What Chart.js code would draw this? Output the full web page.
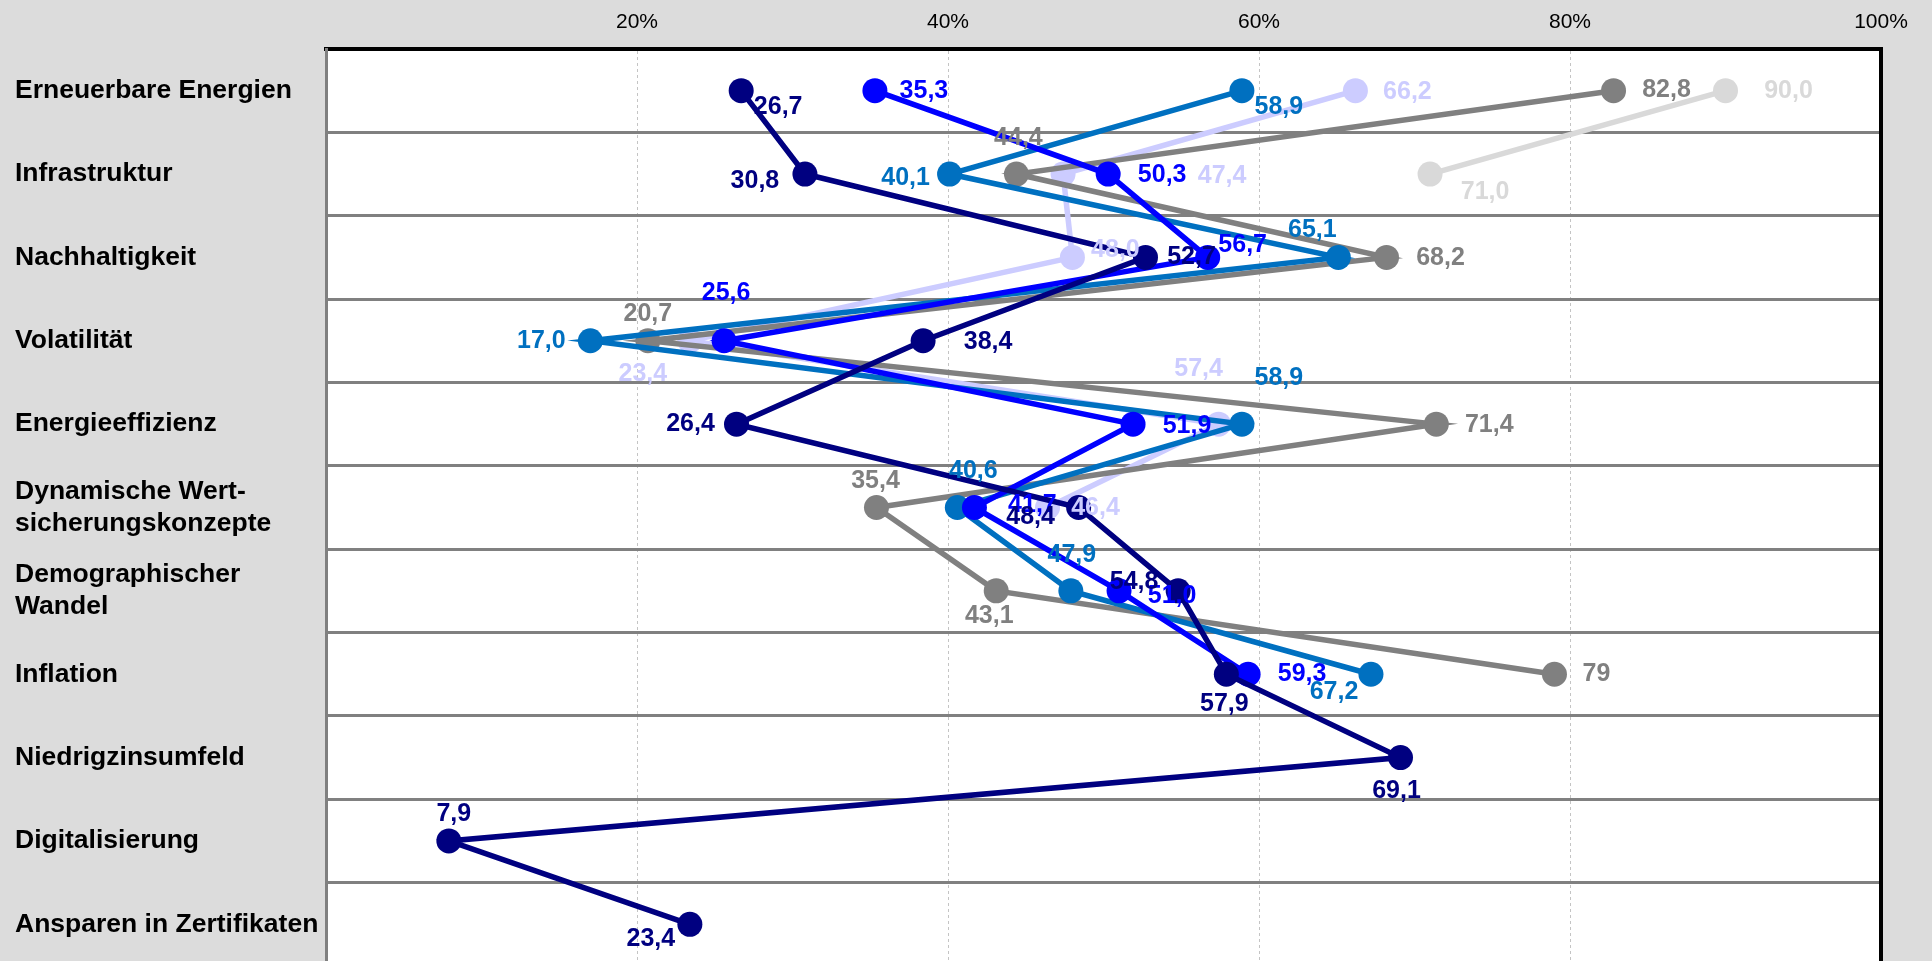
<!DOCTYPE html>
<html lang="de">
<head>
    <meta charset="utf-8">
    <title>Themen im Vergleich</title>
    <script src="https://cdn.jsdelivr.net/npm/chart.js"></script>
    <style>
        body {
            margin: 0;
            background: #dcdcdc;
            overflow: hidden;
        }
        /* die Grafik läuft unten etwas über den Rand hinaus */
        .frame {
            width: 1932px;
            height: 961px;
            overflow: hidden;
        }
        .chart-container {
            width: 1932px;
            height: 966px;
        }
    </style>
</head>
<body>

    <div class="frame">
        <div class="chart-container">
            <canvas id="themenChart"></canvas>
        </div>
    </div>

    <script>
        // Kategorien (von oben nach unten)
        const kategorien = [
            'Erneuerbare Energien',
            'Infrastruktur',
            'Nachhaltigkeit',
            'Volatilität',
            'Energieeffizienz',
            ['Dynamische Wert-', 'sicherungskonzepte'],
            ['Demographischer', 'Wandel'],
            'Inflation',
            'Niedrigzinsumfeld',
            'Digitalisierung',
            'Ansparen in Zertifikaten'
        ];

        // Werte in % je Serie
        const werteNavy = [26.7, 30.8, 52.7, 38.4, 26.4, 48.4, 54.8, 57.9, 69.1, 7.9, 23.4];
        const werteBlau = [35.3, 50.3, 56.7, 25.6, 51.9, 41.7, 51.0, 59.3];
        const werteMittelblau = [58.9, 40.1, 65.1, 17.0, 58.9, 40.6, 47.9, 67.2];
        const werteGrau = [82.8, 44.4, 68.2, 20.7, 71.4, 35.4, 43.1, '79'];
        const werteLavendel = [66.2, 47.4, 48.0, 23.4, 57.4, 46.4];
        const werteHellgrau = [90.0, 71.0];

        // Achsenbeschriftung oben
        const achsenTicks = [20, 40, 60, 80, 100];

        // Versatz der Wertebeschriftungen (Pixel, relativ zum Punkt)
        const versatzNavy = [[37, 16], [-50, 7], [46, 0], [65, 1], [-46, 0], [-48, 10], [-44, -9], [-2, 30], [-4, 34], [5, -27], [-39, 15]];
        const versatzBlau = [[49, 0], [54, 1], [35, -12], [2, -48], [54, 2], [58, -2], [53, 5], [54, 0]];
        const versatzMittelblau = [[37, 16], [-44, 4], [-26, -27], [-49, 0], [37, -46], [16, -36], [1, -36], [-37, 18]];
        const versatzGrau = [[53, -1], [2, -36], [54, 1], [0, -27], [53, 1], [-1, -26], [-7, 25], [42, 0]];
        const versatzLavendel = [[52, 1], [159, 2], [43, -7], [-47, 33], [-20, -55], [48, 1]];
        const versatzHellgrau = [[63, 0], [55, 18]];

        Chart.defaults.font.family = "'Liberation Sans', Arial, sans-serif";
        Chart.defaults.color = '#000000';

        function serie(werte, farbe, versatz) {
            return {
                data: werte,
                borderColor: farbe,
                backgroundColor: farbe,
                pointBackgroundColor: farbe,
                pointBorderWidth: 0,
                pointRadius: 12.5,
                pointHoverRadius: 12.5,
                borderWidth: 5.5,
                tension: 0,
                versatz: versatz
            };
        }

        // Hintergrund grau, Zeichenfläche weiß
        const hintergrund = {
            id: 'hintergrund',
            beforeDraw(chart) {
                const { ctx, chartArea: a, width, height } = chart;
                ctx.save();
                ctx.fillStyle = '#dcdcdc';
                ctx.fillRect(0, 0, width, height);
                ctx.fillStyle = '#ffffff';
                ctx.fillRect(a.left, a.top, a.right - a.left, a.bottom - a.top);
                ctx.restore();
            }
        };

        // Wertebeschriftungen
        const wertelabels = {
            id: 'wertelabels',
            afterDatasetsDraw(chart) {
                const ctx = chart.ctx;
                ctx.save();
                ctx.font = "bold 25px 'Liberation Sans', Arial, sans-serif";
                ctx.textAlign = 'center';
                ctx.textBaseline = 'middle';
                for (let d = chart.data.datasets.length - 1; d >= 0; d--) {
                    const ds = chart.data.datasets[d];
                    const meta = chart.getDatasetMeta(d);
                    ctx.fillStyle = ds.borderColor;
                    meta.data.forEach((pt, i) => {
                        const roh = ds.data[i];
                        const text = typeof roh === 'string' ? roh : roh.toFixed(1).replace('.', ',');
                        const [dx, dy] = ds.versatz[i];
                        ctx.fillText(text, pt.x + dx, pt.y + dy);
                    });
                }
                ctx.restore();
            }
        };

        // rechter Rahmen schwarz
        const rahmen = {
            id: 'rahmen',
            afterDraw(chart) {
                const { ctx, chartArea: a } = chart;
                ctx.save();
                ctx.strokeStyle = '#000000';
                ctx.lineWidth = 4;
                ctx.beginPath();
                ctx.moveTo(a.right, a.top - 2);
                ctx.lineTo(a.right, a.bottom);
                ctx.stroke();
                ctx.restore();
            }
        };

        const ctx = document.getElementById('themenChart').getContext('2d');

        const themenChart = new Chart(ctx, {
            type: 'line',
            data: {
                labels: kategorien,
                datasets: [
                    serie(werteNavy, '#000080', versatzNavy),
                    serie(werteBlau, '#0000ff', versatzBlau),
                    serie(werteMittelblau, '#0070c0', versatzMittelblau),
                    serie(werteGrau, '#808080', versatzGrau),
                    serie(werteLavendel, '#ccccff', versatzLavendel),
                    serie(werteHellgrau, '#d9d9d9', versatzHellgrau)
                ]
            },
            options: {
                indexAxis: 'y',
                responsive: true,
                maintainAspectRatio: false,
                animation: false,
                layout: { autoPadding: false, padding: { left: 15, right: 51, top: 0, bottom: 0 } },
                scales: {
                    x: {
                        type: 'linear',
                        position: 'top',
                        min: 0,
                        max: 100,
                        afterBuildTicks: (scale) => {
                            scale.ticks = [0].concat(achsenTicks).map(v => ({ value: v }));
                        },
                        afterFit: (scale) => { scale.height = 49; },
                        ticks: {
                            autoSkip: false,
                            maxRotation: 0,
                            padding: 14,
                            font: { size: 21 },
                            color: '#000000',
                            callback: (v) => v === 0 ? '' : v + '%'
                        },
                        grid: { color: '#c4c4c4', lineWidth: 1, drawTicks: false },
                        border: { display: true, color: '#000000', width: 4, dash: [3, 3] }
                    },
                    y: {
                        type: 'category',
                        offset: true,
                        afterFit: (scale) => {
                            scale.width = 311;
                            scale.paddingTop = 0;
                            scale.paddingBottom = 0;
                        },
                        ticks: {
                            crossAlign: 'far',
                            padding: 0,
                            autoSkip: false,
                            font: { size: 26.5, weight: 'bold', lineHeight: 1.2 },
                            color: '#000000'
                        },
                        grid: { offset: true, color: '#808080', lineWidth: 3, drawTicks: false },
                        border: { display: true, color: '#808080', width: 3 }
                    }
                },
                plugins: {
                    legend: { display: false },
                    tooltip: { enabled: false }
                }
            },
            plugins: [hintergrund, wertelabels, rahmen]
        });
    </script>

</body>
</html>
